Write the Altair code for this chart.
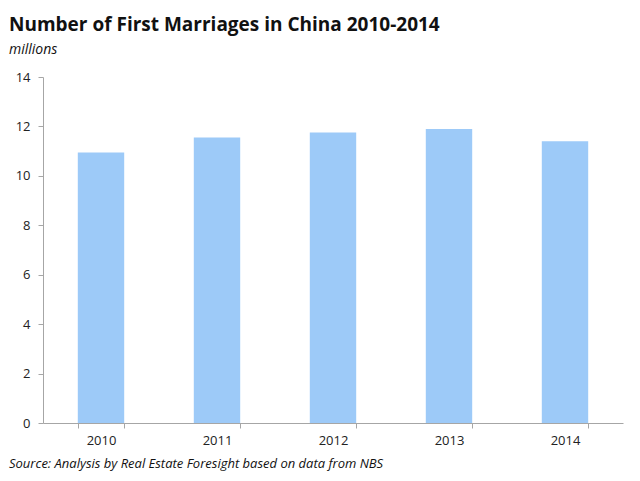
import altair as alt
import pandas as pd

years = ["2010", "2011", "2012", "2013", "2014"]
marriages = [10.95, 11.55, 11.75, 11.9, 11.4]

title_text = "Number of First Marriages in China 2010-2014"
unit_text = "millions"
source_text = "Source: Analysis by Real Estate Foresight based on data from NBS"

df = pd.DataFrame({"year": years, "value": marriages})
FONT = "Open Sans"

bars = alt.Chart(df).mark_bar(color="#9DCAF8").encode(
    x=alt.X("year:N", sort=years,
            scale=alt.Scale(paddingInner=0.6, paddingOuter=0.3),
            axis=alt.Axis(title=None, labelAngle=0, tickBand="extent",
                          domainColor="#a6a6a6", tickColor="#a6a6a6",
                          tickSize=5, labelPadding=6, labelFontSize=13,
                          labelFont=FONT, labelColor="#222")),
    y=alt.Y("value:Q",
            scale=alt.Scale(domain=[0, 14], nice=False),
            axis=alt.Axis(title=None, values=[0, 2, 4, 6, 8, 10, 12, 14],
                          grid=False, domainColor="#a6a6a6", tickColor="#a6a6a6",
                          tickSize=5, labelPadding=8, labelFontSize=13,
                          labelFont=FONT, labelColor="#222")),
)

one = pd.DataFrame({"a": [0]})
title = alt.Chart(one).mark_text(
    text=title_text, align="left", baseline="alphabetic",
    fontSize=19, fontWeight="bold", font=FONT, color="#111"
).encode(x=alt.value(-34), y=alt.value(-46))
unit = alt.Chart(one).mark_text(
    text=unit_text, align="left", baseline="alphabetic",
    fontSize=14, fontStyle="italic", font=FONT, color="#111"
).encode(x=alt.value(-34), y=alt.value(-23))
source = alt.Chart(one).mark_text(
    text=source_text, align="left", baseline="alphabetic",
    fontSize=13, fontStyle="italic", font=FONT, color="#111"
).encode(x=alt.value(-34), y=alt.value(391))

chart = alt.layer(bars, title, unit, source).properties(
    width=580, height=346,
    background="white",
    autosize=alt.AutoSizeParams(type="none"),
    padding={"left": 35, "top": 69, "right": 9, "bottom": 50},
).configure_view(strokeWidth=0, stroke="transparent")

chart.save("out.html", embed_options={"renderer": "svg", "actions": False})
